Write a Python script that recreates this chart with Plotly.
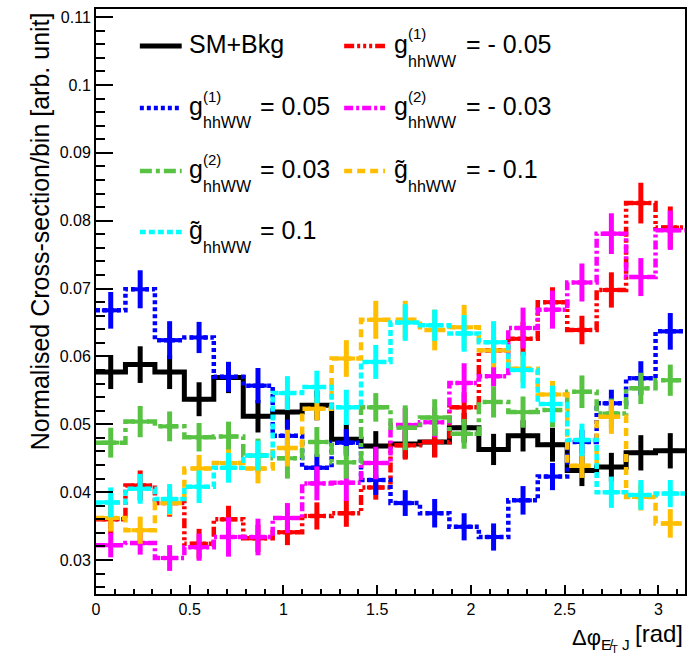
import numpy as np
import plotly.graph_objects as go

# 20 uniform bins in delta-phi between missing E_T and the fat jet
n_bins = 20
edges = np.linspace(0.0, np.pi, n_bins + 1)
centers = 0.5 * (edges[:-1] + edges[1:])
bin_w = edges[1] - edges[0]

# Normalised cross-section per bin, one list per hypothesis
sm_bkg = [0.0577, 0.0588, 0.0577, 0.0537, 0.0569, 0.0512, 0.0518, 0.0528, 0.0478, 0.0468,
          0.0471, 0.0474, 0.0495, 0.0463, 0.0483, 0.0470, 0.0432, 0.0437, 0.0458, 0.0461]
g1_m005 = [0.0360, 0.0410, 0.0384, 0.0324, 0.0360, 0.0332, 0.0341, 0.0365, 0.0369, 0.0407,
           0.0469, 0.0474, 0.0525, 0.0609, 0.0626, 0.0680, 0.0639, 0.0698, 0.0826, 0.0790]
g1_p005 = [0.0668, 0.0699, 0.0624, 0.0628, 0.0570, 0.0557, 0.0483, 0.0436, 0.0473, 0.0418,
           0.0384, 0.0369, 0.0349, 0.0334, 0.0388, 0.0423, 0.0474, 0.0531, 0.0568, 0.0637]
g2_m003 = [0.0322, 0.0325, 0.0303, 0.0319, 0.0334, 0.0334, 0.0362, 0.0413, 0.0414, 0.0443,
           0.0499, 0.0503, 0.0561, 0.0571, 0.0642, 0.0669, 0.0709, 0.0781, 0.0717, 0.0786]
g2_p003 = [0.0473, 0.0504, 0.0497, 0.0481, 0.0482, 0.0454, 0.0450, 0.0474, 0.0444, 0.0525,
           0.0495, 0.0510, 0.0486, 0.0533, 0.0518, 0.0521, 0.0548, 0.0516, 0.0553, 0.0565]
gt_m01 = [0.0362, 0.0344, 0.0384, 0.0435, 0.0443, 0.0435, 0.0465, 0.0523, 0.0597, 0.0654,
          0.0654, 0.0639, 0.0643, 0.0609, 0.0582, 0.0544, 0.0439, 0.0511, 0.0393, 0.0354]
gt_p01 = [0.0385, 0.0405, 0.0390, 0.0408, 0.0436, 0.0454, 0.0546, 0.0555, 0.0525, 0.0592,
          0.0650, 0.0646, 0.0634, 0.0621, 0.0580, 0.0530, 0.0477, 0.0400, 0.0396, 0.0398]

# Statistical uncertainties per bin
sm_bkg_err = [0.0025, 0.0027, 0.0025, 0.0025, 0.0023, 0.0024, 0.0024, 0.0022, 0.0022, 0.0022,
              0.0021, 0.0022, 0.0022, 0.0023, 0.0023, 0.0025, 0.0023, 0.0021, 0.0026, 0.0026]
g1_m005_err = [0.0022, 0.0022, 0.0020, 0.0022, 0.0020, 0.0020, 0.0019, 0.0020, 0.0020, 0.0018,
               0.0021, 0.0023, 0.0022, 0.0020, 0.0025, 0.0022, 0.0021, 0.0026, 0.0030, 0.0031]
g1_p005_err = [0.0027, 0.0028, 0.0028, 0.0023, 0.0022, 0.0026, 0.0024, 0.0020, 0.0020, 0.0022,
               0.0019, 0.0021, 0.0020, 0.0020, 0.0021, 0.0020, 0.0018, 0.0020, 0.0025, 0.0027]
g2_m003_err = [0.0018, 0.0017, 0.0019, 0.0020, 0.0029, 0.0027, 0.0022, 0.0025, 0.0027, 0.0024,
               0.0025, 0.0022, 0.0029, 0.0015, 0.0030, 0.0028, 0.0028, 0.0030, 0.0028, 0.0029]
g2_p003_err = [0.0022, 0.0023, 0.0022, 0.0021, 0.0022, 0.0025, 0.0030, 0.0022, 0.0024, 0.0021,
               0.0033, 0.0027, 0.0022, 0.0023, 0.0023, 0.0025, 0.0024, 0.0022, 0.0023, 0.0023]
gt_m01_err = [0.0020, 0.0020, 0.0018, 0.0020, 0.0020, 0.0022, 0.0027, 0.0017, 0.0027, 0.0028,
              0.0028, 0.0030, 0.0033, 0.0025, 0.0020, 0.0020, 0.0018, 0.0025, 0.0020, 0.0021]
gt_p01_err = [0.0022, 0.0022, 0.0022, 0.0024, 0.0022, 0.0022, 0.0025, 0.0024, 0.0026, 0.0025,
              0.0027, 0.0023, 0.0027, 0.0031, 0.0027, 0.0027, 0.0024, 0.0023, 0.0022, 0.0020]

x_ticks = [0, 0.5, 1, 1.5, 2, 2.5, 3]
x_tick_text = ["0", "0.5", "1", "1.5", "2", "2.5", "3"]
y_ticks = [0.03, 0.04, 0.05, 0.06, 0.07, 0.08, 0.09, 0.10, 0.11]
y_tick_text = ["0.03", "0.04", "0.05", "0.06", "0.07", "0.08", "0.09", "0.1", "0.11"]

FONT = "Liberation Sans, Arial, Helvetica, sans-serif"
GREEN = "#58c343"
ORANGE = "#ffbf00"

# (values, errors, colour, dash pattern, line width), in drawing order
series = [
    (sm_bkg, sm_bkg_err, "#000000", "solid", 5),
    (g1_m005, g1_m005_err, "#ff0000", "10px,3px,3px,3px,3px,3px,3px,3px", 4.5),
    (g1_p005, g1_p005_err, "#0000ff", "4px,3px", 4.5),
    (g2_m003, g2_m003_err, "#ff00ff", "9px,3px,3px,3px", 4.5),
    (g2_p003, g2_p003_err, GREEN, "12px,4px,4px,4px", 4.5),
    (gt_m01, gt_m01_err, ORANGE, "8px,5px", 4.5),
    (gt_p01, gt_p01_err, "#00ffff", "6px,3px", 4.5),
]

fig = go.Figure()
for vals, errs, col, dash, lw in series:
    # histogram outline
    fig.add_trace(go.Scatter(
        x=edges, y=list(vals) + [vals[-1]], mode="lines", line_shape="hv",
        line=dict(color=col, width=lw, dash=dash), hoverinfo="skip", showlegend=False))
    # error crosses
    fig.add_trace(go.Scatter(
        x=centers, y=vals, mode="markers",
        marker=dict(size=1, color=col),
        error_y=dict(type="data", array=errs, visible=True, color=col, thickness=5, width=0),
        error_x=dict(type="constant", value=0.3 * bin_w, visible=True, color=col,
                     thickness=4, width=0),
        showlegend=False))

# frame geometry in pixels
L, R, T, B = 96, 687, 9, 594
W, H = R - L, B - T


def fx(p):
    return (p - L) / W


def fy(p):
    return (B - p) / H


annotations = []
shapes = []


def text(x, y, s, size, anchor="left", yanchor="middle", angle=0):
    annotations.append(dict(
        x=fx(x), y=fy(y), xref="paper", yref="paper", text=s, showarrow=False,
        xanchor=anchor, yanchor=yanchor, textangle=angle,
        font=dict(family=FONT, size=size, color="#000000")))


def sample(x0, x1, y, col, dash, lw):
    shapes.append(dict(type="line", xref="paper", yref="paper",
                       x0=fx(x0), x1=fx(x1), y0=fy(y), y1=fy(y),
                       line=dict(color=col, width=lw, dash=dash)))


def coupling(x, y, base, sup, value):
    text(x, y, base, 25)
    if sup:
        text(x + 14, y - 10, sup, 15)
    text(x + 14, y + 17, "hhWW", 16)
    text(x + 72, y, value, 25)


# legend, two columns
lx0, lx1, ltx = 140, 182, 187
rx0, rx1, rtx = 345, 386, 393
rows = [44, 106, 169, 230]

sample(lx0, lx1, rows[0] + 2, "#000000", "solid", 5)
text(ltx, rows[0], "SM+Bkg", 25)
sample(rx0, rx1, rows[0] + 2, "#ff0000", series[1][3], 4.5)
coupling(rtx, rows[0], "g", "(1)", "= - 0.05")

sample(lx0, lx1, rows[1] + 2, "#0000ff", series[2][3], 4.5)
coupling(ltx, rows[1], "g", "(1)", "= 0.05")
sample(rx0, rx1, rows[1] + 2, "#ff00ff", series[3][3], 4.5)
coupling(rtx, rows[1], "g", "(2)", "= - 0.03")

sample(lx0, lx1, rows[2] + 2, GREEN, series[4][3], 4.5)
coupling(ltx, rows[2], "g", "(2)", "= 0.03")
sample(rx0, rx1, rows[2] + 2, ORANGE, series[5][3], 4.5)
coupling(rtx, rows[2], "g\u0303", None, "= - 0.1")

sample(lx0, lx1, rows[3] + 2, "#00ffff", series[6][3], 4.5)
coupling(ltx, rows[3], "g\u0303", None, "= 0.1")

# axis titles
text(40, 10, "Normalised Cross-section/bin [arb. unit]", 25, anchor="center",
     yanchor="top", angle=-90)
text(572, 640, "\u0394\u03c6<sub>E\u0338<sub>T</sub> J</sub>", 22)
text(687, 633, "[rad]", 24, anchor="right")

axis_common = dict(showline=True, linecolor="#000000", linewidth=2, mirror=True,
                   ticks="inside", tickcolor="#000000", tickwidth=1.5,
                   showgrid=False, zeroline=False,
                   tickfont=dict(family=FONT, size=16, color="#000000"))

fig.update_layout(
    width=692, height=662,
    margin=dict(l=L, r=692 - R, t=T, b=662 - B),
    paper_bgcolor="white", plot_bgcolor="white",
    showlegend=False,
    annotations=annotations, shapes=shapes,
    xaxis=dict(range=[0, np.pi], tickvals=x_ticks, ticktext=x_tick_text, ticklen=9,
               minor=dict(dtick=0.1, tick0=0, ticks="inside", ticklen=5,
                          tickcolor="#000000", tickwidth=1.5),
               **axis_common),
    yaxis=dict(range=[0.025, 0.1112], tickvals=y_ticks, ticktext=y_tick_text, ticklen=17,
               minor=dict(dtick=0.002, tick0=0.03, ticks="inside", ticklen=9,
                          tickcolor="#000000", tickwidth=1.5),
               **axis_common),
)

fig.write_html("out.html")
